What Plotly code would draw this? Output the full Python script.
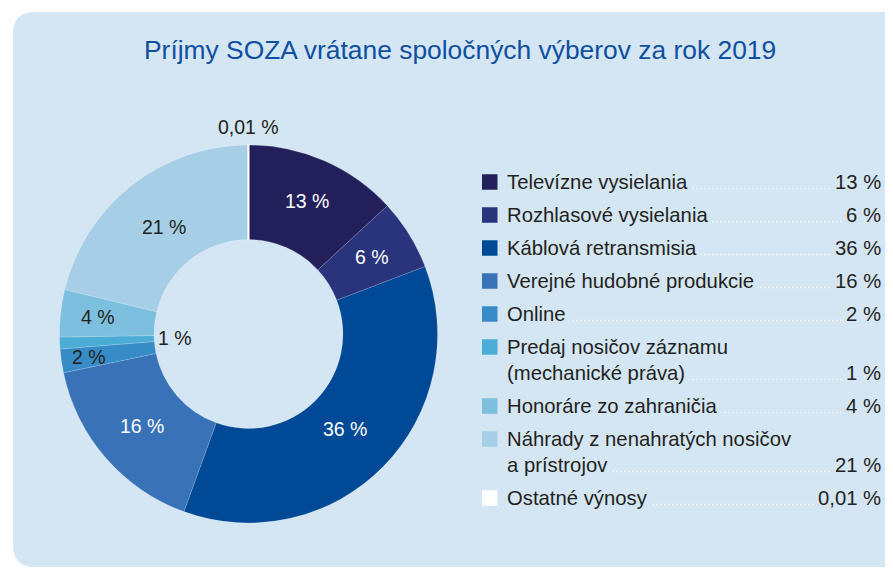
import math
import plotly.graph_objects as go

# ---------------- data ----------------
categories = [
    "Televízne vysielania",
    "Rozhlasové vysielania",
    "Káblová retransmisia",
    "Verejné hudobné produkcie",
    "Online",
    "Predaj nosičov záznamu (mechanické práva)",
    "Honoráre zo zahraničia",
    "Náhrady z nenahratých nosičov a prístrojov",
    "Ostatné výnosy",
]
values = [13, 6, 36, 16, 2, 1, 4, 21, 0.01]
slice_labels = ["13 %", "6 %", "36 %", "16 %", "2 %", "1 %", "4 %", "21 %", "0,01 %"]
legend_lines = [
    ["Televízne vysielania"],
    ["Rozhlasové vysielania"],
    ["Káblová retransmisia"],
    ["Verejné hudobné produkcie"],
    ["Online"],
    ["Predaj nosičov záznamu", "(mechanické práva)"],
    ["Honoráre zo zahraničia"],
    ["Náhrady z nenahratých nosičov", "a prístrojov"],
    ["Ostatné výnosy"],
]
legend_values = ["13 %", "6 %", "36 %", "16 %", "2 %", "1 %", "4 %", "21 %", "0,01 %"]
title_text = "Príjmy SOZA vrátane spoločných výberov za rok 2019"

# ---------------- styles ----------------
colors = ["#221f5b", "#29347c", "#004996", "#3a72b7", "#378bc7",
          "#4badd6", "#7dbfdf", "#a6cfe7", "#ffffff"]
label_font_colors = ["#ffffff", "#ffffff", "#ffffff", "#ffffff", "#231f20",
                     "#231f20", "#231f20", "#231f20", "#231f20"]
label_radius = [0.77, 0.77, 0.715, 0.745, 0.85, 0.39, 0.80, 0.72, 1.095]
BG = "#d4e6f4"
FONT = "Liberation Sans, Arial, sans-serif"
TXT = "#231f20"

# page has an 8px body margin: the figure starts at (8, 8)
OFF = 8
W, H = 893 - OFF, 569 - OFF
CX, CY, R = 248.5, 334.0, 189.0


def px(x):
    return (x - OFF) / W


def py(y):
    return 1 - (y - OFF) / H


fig = go.Figure()

line_colors = ["rgba(255,255,255,0.25)"] * (len(values) - 1) + ["#ffffff"]
line_widths = [0.6] * (len(values) - 1) + [2]

fig.add_trace(go.Pie(
    values=values,
    labels=categories,
    sort=False,
    direction="clockwise",
    rotation=0,
    hole=0.5,
    textinfo="none",
    hoverinfo="label+percent",
    marker=dict(colors=colors, line=dict(color=line_colors, width=line_widths)),
    domain=dict(x=[px(CX - R), px(CX + R)], y=[py(CY + R), py(CY - R)]),
    showlegend=False,
))

shapes = []
annotations = []

# background rounded panel
x0, y0, x1, y1, rr = 13, 12, 905, 567, 22
path = (f"M {px(x0 + rr)},{py(y0)} L {px(x1)},{py(y0)} L {px(x1)},{py(y1)} "
        f"L {px(x0 + rr)},{py(y1)} Q {px(x0)},{py(y1)} {px(x0)},{py(y1 - rr)} "
        f"L {px(x0)},{py(y0 + rr)} Q {px(x0)},{py(y0)} {px(x0 + rr)},{py(y0)} Z")
shapes.append(dict(type="path", path=path, xref="paper", yref="paper",
                   fillcolor=BG, line=dict(width=0), layer="below"))

# slice labels placed from the data (mid angle of each slice)
total = sum(values)
cum = 0.0
for v, lab, fc, rf in zip(values, slice_labels, label_font_colors, label_radius):
    mid = (cum + v / 2) / total
    cum += v
    th = 2 * math.pi * mid
    x = CX + rf * R * math.sin(th)
    y = CY - rf * R * math.cos(th)
    annotations.append(dict(x=px(x), y=py(y), xref="paper", yref="paper",
                            text=lab, showarrow=False,
                            font=dict(family=FONT, size=19.5, color=fc),
                            xanchor="center", yanchor="middle"))

# custom legend with dot leaders
SQ_X, SQ = 482, 15.5
TX, VX = 506, 882
y = 182.0
ROW_GAP, LINE_GAP = 33, 26
for i, lines in enumerate(legend_lines):
    shapes.append(dict(type="rect", xref="paper", yref="paper",
                       x0=px(SQ_X), x1=px(SQ_X + SQ),
                       y0=py(y + SQ / 2), y1=py(y - SQ / 2),
                       fillcolor=colors[i], line=dict(width=0)))
    ly = y
    for j, ln in enumerate(lines):
        ly = y + j * LINE_GAP
        annotations.append(dict(x=px(TX - 3), y=py(ly), xref="paper", yref="paper",
                                text=ln, showarrow=False, bgcolor=BG, borderpad=3,
                                font=dict(family=FONT, size=20.3, color=TXT),
                                xanchor="left", yanchor="middle"))
    # dot leader on the last line
    shapes.append(dict(type="line", xref="paper", yref="paper",
                       x0=px(TX + 10), x1=px(VX - 10), y0=py(ly + 6.5), y1=py(ly + 6.5),
                       line=dict(color="#f6fafd", width=1.5, dash="1.5px,2.5px"),
                       layer="above"))
    annotations.append(dict(x=px(VX + 3), y=py(ly), xref="paper", yref="paper",
                            text=legend_values[i], showarrow=False, bgcolor=BG, borderpad=3,
                            font=dict(family=FONT, size=20.3, color=TXT),
                            xanchor="right", yanchor="middle"))
    y = ly + ROW_GAP

# title
annotations.append(dict(x=px(460), y=py(50), xref="paper", yref="paper",
                        text=title_text, showarrow=False,
                        font=dict(family=FONT, size=26.4, color="#0f4f9f"),
                        xanchor="center", yanchor="middle"))

fig.update_layout(
    width=W, height=H,
    margin=dict(l=0, r=0, t=0, b=0),
    paper_bgcolor="#ffffff",
    plot_bgcolor="#ffffff",
    shapes=shapes,
    annotations=annotations,
    showlegend=False,
)

fig.write_html("out.html")
